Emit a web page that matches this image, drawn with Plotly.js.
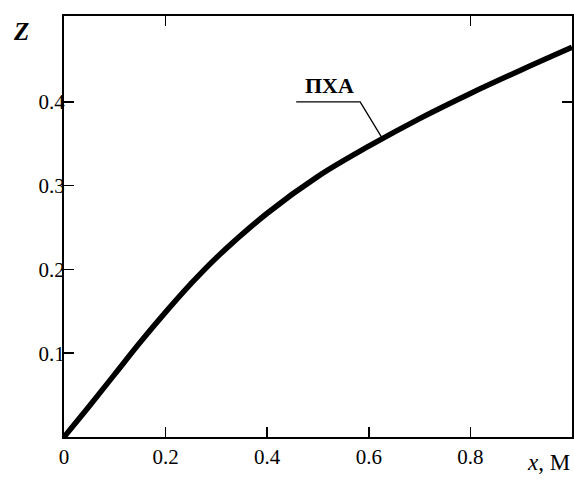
<!DOCTYPE html>
<html>
<head>
<meta charset="utf-8">
<script src="https://cdn.plot.ly/plotly-3.0.1.min.js"></script>
<style>html,body{margin:0;padding:0;background:#fff;}#chart{width:574px;height:486px;}</style>
</head>
<body>
<div id="chart"></div>
<script>
// Curve data
const xValues = [0, 0.05, 0.1, 0.15, 0.2, 0.25, 0.3, 0.4, 0.5, 0.6, 0.7, 0.8, 0.9, 1.0];
const zValues = [0, 0.037, 0.075, 0.113, 0.149, 0.183, 0.214, 0.267, 0.311, 0.347, 0.380, 0.410, 0.438, 0.465];
const xTickVals = [0, 0.2, 0.4, 0.6, 0.8];
const xTickText = ['0', '0.2', '0.4', '0.6', '0.8'];
const yTickVals = [0.1, 0.2, 0.3, 0.4];
const yTickText = ['0.1', '0.2', '0.3', '0.4'];
const topTickVals = [0.2, 0.8];
const rightTickVals = [0.4];
const curveLabel = 'ПХА';

const serif = "'Liberation Serif', 'DejaVu Serif', serif";
const xRange = [0, 1.0];
const yRange = [0, 0.5024];

const traces = [{
  x: xValues, y: zValues, type: 'scatter', mode: 'lines',
  line: {color: '#000', width: 5.5, shape: 'spline', smoothing: 1.0},
  hoverinfo: 'skip', showlegend: false
}];

const layout = {
  width: 574, height: 486,
  margin: {l: 64, r: 2, t: 16, b: 49},
  paper_bgcolor: '#fff', plot_bgcolor: '#fff',
  showlegend: false,
  font: {family: serif, size: 21, color: '#000'},
  xaxis: {
    range: xRange, tickmode: 'array', tickvals: xTickVals, ticktext: xTickText,
    ticks: 'inside', ticklen: 10, tickwidth: 1.6, tickcolor: '#000',
    showline: true, linecolor: '#000', linewidth: 2, mirror: true,
    showgrid: false, zeroline: false, fixedrange: true,
    tickfont: {family: serif, size: 21, color: '#000'}
  },
  yaxis: {
    range: yRange, tickmode: 'array', tickvals: yTickVals, ticktext: yTickText,
    ticks: 'inside', ticklen: 10, tickwidth: 1.6, tickcolor: '#000',
    showline: true, linecolor: '#000', linewidth: 2, mirror: true,
    showgrid: false, zeroline: false, fixedrange: true,
    ticklabelstandoff: -7,
    tickfont: {family: serif, size: 21, color: '#000'}
  },
  xaxis2: {
    overlaying: 'x', side: 'top', range: xRange, tickmode: 'array', tickvals: topTickVals,
    showticklabels: false, ticks: 'inside', ticklen: 10, tickwidth: 1.6, tickcolor: '#000',
    showgrid: false, zeroline: false, showline: false, fixedrange: true, anchor: 'y'
  },
  yaxis2: {
    overlaying: 'y', side: 'right', range: yRange, tickmode: 'array', tickvals: rightTickVals,
    showticklabels: false, ticks: 'inside', ticklen: 10, tickwidth: 1.6, tickcolor: '#000',
    showgrid: false, zeroline: false, showline: false, fixedrange: true, anchor: 'x'
  },
  shapes: [{
    type: 'path', xref: 'x', yref: 'y',
    path: 'M 0.457 0.4 L 0.583 0.4 L 0.626 0.357',
    line: {color: '#000', width: 1.3}
  }],
  annotations: [
    {text: '<b>' + curveLabel + '</b>', xref: 'x', yref: 'y', x: 0.522, y: 0.402,
     xanchor: 'center', yanchor: 'bottom', showarrow: false,
     font: {family: serif, size: 22, color: '#000'}},
    {text: '<b><i>Z</i></b>', xref: 'paper', yref: 'paper', x: -0.085, y: 1.0,
     xanchor: 'center', yanchor: 'top', showarrow: false,
     font: {family: serif, size: 25, color: '#000'}},
    {text: '<i>x</i>, М', xref: 'paper', yref: 'paper', x: 1.0, y: -0.095,
     xanchor: 'right', yanchor: 'bottom', showarrow: false,
     font: {family: serif, size: 23, color: '#000'}}
  ]
};

// invisible traces that activate the overlay axes
traces.push({x: [0], y: [0], xaxis: 'x2', yaxis: 'y', type: 'scatter', mode: 'markers',
  marker: {opacity: 0}, hoverinfo: 'skip', showlegend: false});
traces.push({x: [0], y: [0], xaxis: 'x', yaxis: 'y2', type: 'scatter', mode: 'markers',
  marker: {opacity: 0}, hoverinfo: 'skip', showlegend: false});

Plotly.newPlot('chart', traces, layout, {staticPlot: true, displayModeBar: false});
</script>
</body>
</html>
